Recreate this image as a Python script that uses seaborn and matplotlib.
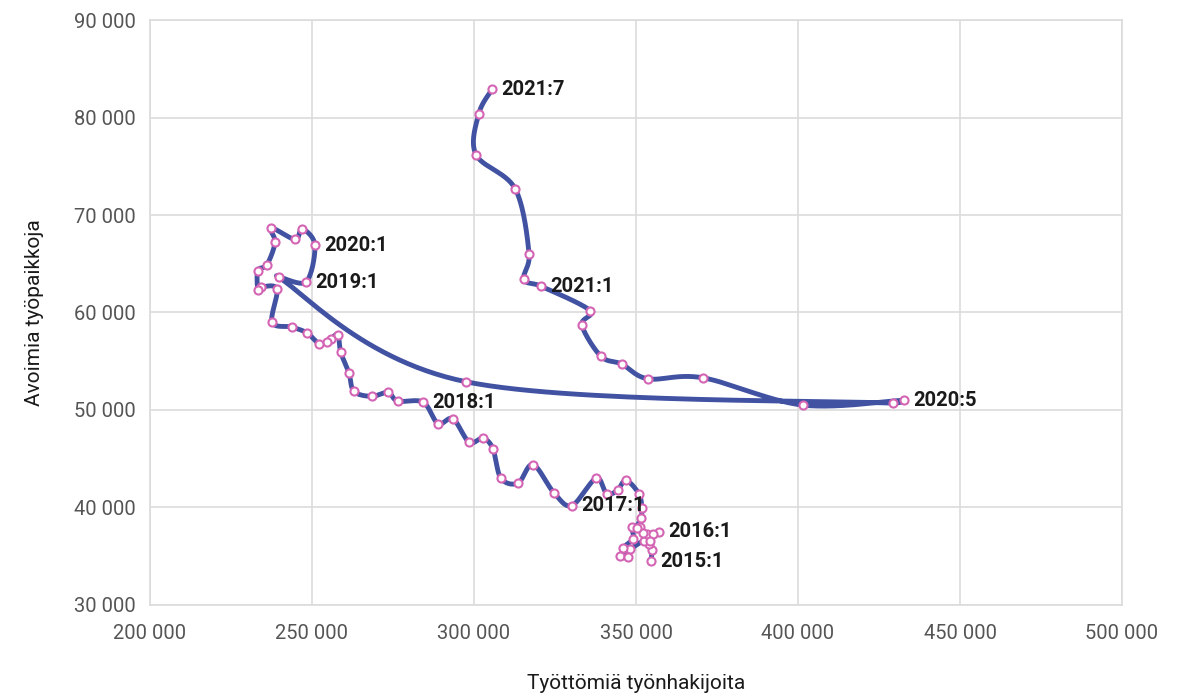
import numpy as np
import pandas as pd
import matplotlib
matplotlib.use("Agg")
import matplotlib.pyplot as plt
import matplotlib.ticker as mticker
from matplotlib import font_manager
import seaborn as sns

# Beveridge curve: unemployed job seekers (x) vs open vacancies (y), in path order
unemployed = [
    354600, 354900, 354000, 352500, 348100, 345100, 347500, 346000, 349100, 348800,
    351200, 353400, 357100, 355200, 354300, 352200, 350300, 351500, 351800, 350900,
    346900, 344400, 341000, 337700, 330200, 324700, 318200, 313600, 308300, 305900,
    302800, 298500, 293500, 288900, 284300, 276500, 273500, 268500, 263000, 261400,
    258900, 258000, 255900, 254600, 252200, 248500, 243800, 237700, 239200, 234300,
    233300, 233300, 236100, 238600, 237300, 244800, 246900, 250900, 248100, 239800,
    297500, 429300, 432700, 401500, 370700, 353700, 345700, 339200, 333300, 335800,
    320700, 315400, 317000, 312700, 300600, 301500, 305600,
]
vacancies = [
    34500, 35600, 36300, 36600, 35700, 35000, 34900, 35800, 36800, 38000,
    38000, 37300, 37500, 37300, 36600, 37400, 37900, 38900, 39900, 41400,
    42800, 41800, 41400, 43000, 40200, 41500, 44400, 42500, 43000, 46000,
    47100, 46700, 49100, 48600, 50800, 50900, 51800, 51400, 51900, 53800,
    55900, 57700, 57300, 57000, 56800, 57900, 58500, 59000, 62400, 62600,
    62300, 64300, 64900, 67200, 68700, 67500, 68600, 66900, 63100, 63600,
    52900, 50700, 51000, 50500, 53300, 53200, 54700, 55500, 58700, 60200,
    62700, 63400, 66000, 72700, 76200, 80400, 82900,
]
# labelled points (index in the series above -> text)
label_index = [0, 12, 24, 34, 58, 57, 62, 70, 76]
label_text = ["2015:1", "2016:1", "2017:1", "2018:1", "2019:1", "2020:1", "2020:5", "2021:1", "2021:7"]

x_ticks = [200000, 250000, 300000, 350000, 400000, 450000, 500000]
y_ticks = [30000, 40000, 50000, 60000, 70000, 80000, 90000]

sns.set_theme(style="white")

installed = {f.name for f in font_manager.fontManager.ttflist}
narrow = "Liberation Sans Narrow" if "Liberation Sans Narrow" in installed else "Roboto"
plt.rcParams["font.family"] = [narrow, "DejaVu Sans"]

df = pd.DataFrame({"x": unemployed, "y": vacancies})


# smoothed line like a spreadsheet "smoothed scatter" (Bezier through the points);
# worked out in screen-like units so the handle clamp behaves the same on both axes
def smooth(px, py, n=30, sx=50000 / 162, sy=10000 / 97.5):
    p = np.column_stack([np.asarray(px) / sx, np.asarray(py) / sy]).astype(float)
    p = np.vstack([p[0], p, p[-1]])
    out = []
    t = np.linspace(0, 1, n)[:, None]
    for i in range(1, len(p) - 2):
        p0, p1, p2, p3 = p[i - 1], p[i], p[i + 1], p[i + 2]
        seg_len = np.linalg.norm(p2 - p1)
        d1 = (p2 - p0) / 6
        d2 = (p3 - p1) / 6
        for d in (d1, d2):
            L = np.linalg.norm(d)
            if L > 0.5 * seg_len and L > 0:
                d *= 0.5 * seg_len / L
        c1 = p1 + d1
        c2 = p2 - d2
        seg = ((1 - t) ** 3) * p1 + 3 * ((1 - t) ** 2) * t * c1 + 3 * (1 - t) * t ** 2 * c2 + t ** 3 * p2
        out.append(seg if i == 1 else seg[1:])
    s = np.vstack(out)
    return pd.DataFrame({"x": s[:, 0] * sx, "y": s[:, 1] * sy})


curve = smooth(df["x"], df["y"])

fig = plt.figure(figsize=(11.78, 6.97), dpi=100)
ax = fig.add_axes([0.1273, 0.132, 0.8252, 0.8393])

sns.lineplot(data=curve, x="x", y="y", sort=False, estimator=None, ax=ax,
             color="#4152a3", linewidth=3.5, zorder=2)
sns.scatterplot(data=df, x="x", y="y", ax=ax, s=34, facecolor="white",
                edgecolor="#d464b4", linewidth=1.5, zorder=3)

for i, txt in zip(label_index, label_text):
    ax.annotate(txt, (unemployed[i], vacancies[i]), xytext=(6.5, 0), textcoords="offset points",
                ha="left", va="center", fontsize=14.5, fontweight="bold", color="#1a1a1a")

ax.set_xlim(200000, 500000)
ax.set_ylim(30000, 90000)
ax.set_xticks(x_ticks)
ax.set_yticks(y_ticks)
fmt = mticker.FuncFormatter(lambda v, p: f"{int(v):,}".replace(",", " "))
ax.xaxis.set_major_formatter(fmt)
ax.yaxis.set_major_formatter(fmt)
ax.tick_params(axis="both", length=0, labelsize=14.5, labelcolor="#555555")
ax.tick_params(axis="x", pad=14)
ax.tick_params(axis="y", pad=10)
ax.grid(True, color="#dcdcdc", linewidth=1.2)
for s in ax.spines.values():
    s.set_color("#dcdcdc")
    s.set_linewidth(1.2)

ax.set_xlabel("Työttömiä työnhakijoita", fontsize=15, color="#1a1a1a", labelpad=22)
ax.set_ylabel("Avoimia työpaikkoja", fontsize=15, color="#1a1a1a", labelpad=22)

fig.savefig("out.png", dpi=100)
